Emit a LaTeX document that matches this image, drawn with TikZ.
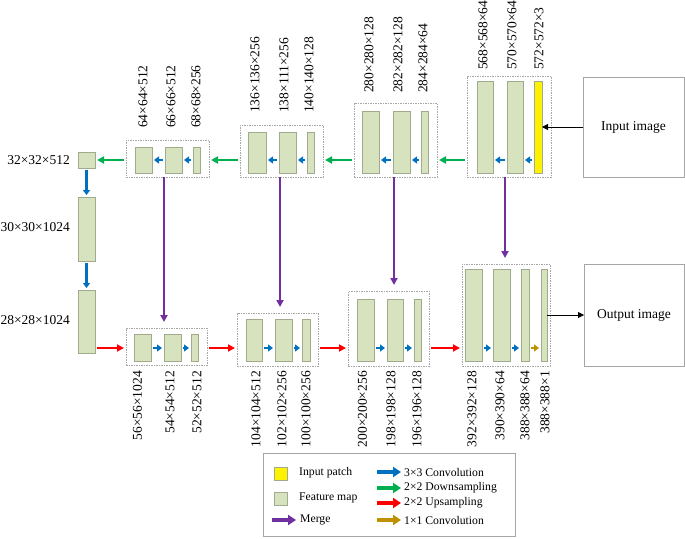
\documentclass[tikz,border=0pt]{standalone}
\usepackage{fontspec}
\setmainfont{Liberation Serif}
\usetikzlibrary{arrows.meta}
\definecolor{fmfill}{RGB}{215,227,191}
\definecolor{fmdraw}{RGB}{160,170,140}
\definecolor{cblue}{RGB}{0,112,192}
\definecolor{cgreen}{RGB}{0,176,80}
\definecolor{cred}{RGB}{255,0,0}
\definecolor{cpurple}{RGB}{112,48,160}
\definecolor{cgold}{RGB}{191,144,0}
\definecolor{boxgray}{RGB}{166,166,166}
\tikzset{
 fm/.style={draw=fmdraw, fill=fmfill, line width=0.8pt, inner sep=0pt, outer sep=0pt},
 patch/.style={draw=fmdraw, fill=yellow, line width=0.8pt, inner sep=0pt, outer sep=0pt},
 dbox/.style={draw=boxgray, dash pattern=on 1.5pt off 1pt, line width=0.6pt, inner sep=0pt, outer sep=0pt},
 imgbox/.style={draw=boxgray, line width=0.8pt, inner sep=0pt, outer sep=0pt, font=\fontsize{13.5}{16}\selectfont},
 lbl/.style={font=\fontsize{13.5}{16}\selectfont, inner sep=0pt},
 vlbl/.style={lbl, rotate=90},
 leg/.style={font=\fontsize{11.7}{14}\selectfont, inner sep=0pt, anchor=west},
 conv/.style={cblue, line width=2.6pt, -{Triangle[length=5pt,width=7pt]}, shorten <=2pt, shorten >=2pt},
 one/.style={cgold, line width=2.6pt, -{Triangle[length=5pt,width=7pt]}, shorten <=2pt, shorten >=2pt},
 down/.style={cgreen, line width=2.8pt, -{Triangle[length=7pt,width=7pt]}, shorten <=2pt, shorten >=2pt},
 up/.style={cred, line width=2.8pt, -{Triangle[length=7pt,width=7pt]}, shorten <=2pt, shorten >=2pt},
 merge/.style={cpurple, line width=2.8pt, -{Triangle[length=7pt,width=7pt]}, shorten >=6pt},
 blk/.style={black, line width=0.9pt, -{Triangle[length=6pt,width=6pt]}},
 legarrow/.style={line width=4.5pt, -{Triangle[length=8pt,width=10pt]}},
}
\newcommand\fmap[6][fm]{\node[#1, minimum width=#5 pt, minimum height=#6 pt] (#2) at (#3,#4) {};}
\begin{document}
\begin{tikzpicture}[x=1pt,y=-1pt]
\useasboundingbox (0,0) rectangle (685,538);
\coordinate (r1) at (0,160);
\coordinate (r2) at (0,348);
% dashed group boxes
\node[dbox, minimum width=83pt, minimum height=37pt] (TB1) at (167.5,158.5) {};
\node[dbox, minimum width=83pt, minimum height=52pt] (TB2) at (281.5,151) {};
\node[dbox, minimum width=83pt, minimum height=74pt] (TB3) at (395.5,140) {};
\node[dbox, minimum width=84pt, minimum height=101pt] (TB4) at (509,126.5) {};
\node[dbox, minimum width=81pt, minimum height=37pt] (BB1) at (166.5,346.5) {};
\node[dbox, minimum width=81pt, minimum height=53pt] (BB2) at (277.5,339.5) {};
\node[dbox, minimum width=81pt, minimum height=75pt] (BB3) at (388.5,328.5) {};
\node[dbox, minimum width=88pt, minimum height=102pt] (BB4) at (506,315) {};
% feature maps, top
\fmap{c0}{86.5}{160}{17}{16}
\fmap{t11}{143.5}{160}{17}{26}
\fmap{t12}{173.5}{160}{17}{26}
\fmap{t13}{196.5}{160}{7}{26}
\fmap{t21}{257}{152.5}{18}{41}
\fmap{t22}{287.5}{152.5}{17}{41}
\fmap{t23}{310.5}{152.5}{7}{41}
\fmap{t31}{370.5}{142}{17}{62}
\fmap{t32}{401.5}{142}{17}{62}
\fmap{t33}{424.5}{142}{7}{62}
\fmap{t41}{485}{127}{16}{92}
\fmap{t42}{515}{127}{16}{92}
\fmap[patch]{t43}{538}{127}{8}{92}
% left column
\fmap{c1}{86.5}{229}{17}{64}
\fmap{c2}{86.5}{321.5}{17}{63}
% bottom
\fmap{b11}{142.5}{347.5}{17}{27}
\fmap{b12}{172.5}{347.5}{17}{27}
\fmap{b13}{194.5}{347.5}{7}{27}
\fmap{b21}{254}{340}{16}{42}
\fmap{b22}{283.5}{340}{17}{42}
\fmap{b23}{306}{340}{8}{42}
\fmap{b31}{365.5}{330}{17}{62}
\fmap{b32}{395}{330}{16}{62}
\fmap{b33}{417.5}{330}{7}{62}
\fmap{b41}{473.5}{315}{17}{92}
\fmap{b42}{501.5}{315}{17}{92}
\fmap{b43}{525}{315}{8}{92}
\fmap{b44}{544}{315}{6}{92}
% image boxes
\node[imgbox, minimum width=101pt, minimum height=100pt] (inp) at (633.5,127) {Input image};
\node[imgbox, minimum width=100pt, minimum height=102pt] (outp) at (634,315) {Output image};
% left labels
\node[lbl, anchor=east] (l0) at (70,160) {32×32×512};
\node[lbl, anchor=east] (l1) at (70,227) {30×30×1024};
\node[lbl, anchor=east] (l2) at (70,320) {28×28×1024};
% top labels
\node[vlbl, anchor=west] (lt11) at (143,128) {64×64×512};
\node[vlbl, anchor=west] (lt12) at (171,128) {66×66×512};
\node[vlbl, anchor=west] (lt13) at (196,128) {68×68×256};
\node[vlbl, anchor=west] (lt21) at (255,113) {136×136×256};
\node[vlbl, anchor=west] (lt22) at (284,113) {138×111×256};
\node[vlbl, anchor=west] (lt23) at (309,113) {140×140×128};
\node[vlbl, anchor=west] (lt31) at (369,93) {280×280×128};
\node[vlbl, anchor=west] (lt32) at (398,93) {282×282×128};
\node[vlbl, anchor=west] (lt33) at (423,93) {284×284×64};
\node[vlbl, anchor=west] (lt41) at (483,70) {568×568×64};
\node[vlbl, anchor=west] (lt42) at (512,70) {570×570×64};
\node[vlbl, anchor=west] (lt43) at (539,70) {572×572×3};
% bottom labels
\node[vlbl, anchor=east] (lb11) at (137.5,371) {56×56×1024};
\node[vlbl, anchor=east] (lb12) at (170,371) {54×54×512};
\node[vlbl, anchor=east] (lb13) at (197,371) {52×52×512};
\node[vlbl, anchor=east] (lb21) at (256,371) {104×104×512};
\node[vlbl, anchor=east] (lb22) at (282,371) {102×102×256};
\node[vlbl, anchor=east] (lb23) at (306,371) {100×100×256};
\node[vlbl, anchor=east] (lb31) at (362.5,371) {200×200×256};
\node[vlbl, anchor=east] (lb32) at (391,371) {198×198×128};
\node[vlbl, anchor=east] (lb33) at (417,371) {196×196×128};
\node[vlbl, anchor=east] (lb41) at (472,371) {392×392×128};
\node[vlbl, anchor=east] (lb42) at (500,371) {390×390×64};
\node[vlbl, anchor=east] (lb43) at (525,371) {388×388×64};
\node[vlbl, anchor=east] (lb44) at (545,371) {388×388×1};
% top row arrows
\draw[conv] (t12.west |- r1) -- (t11.east |- r1);
\draw[conv] (t13.west |- r1) -- (t12.east |- r1);
\draw[conv] (t22.west |- r1) -- (t21.east |- r1);
\draw[conv] (t23.west |- r1) -- (t22.east |- r1);
\draw[conv] (t32.west |- r1) -- (t31.east |- r1);
\draw[conv] (t33.west |- r1) -- (t32.east |- r1);
\draw[conv] (t42.west |- r1) -- (t41.east |- r1);
\draw[conv] (t43.west |- r1) -- (t42.east |- r1);
\draw[down] (TB1.west |- r1) -- (c0.east);
\draw[down] (TB2.west |- r1) -- (TB1.east |- r1);
\draw[down] (TB3.west |- r1) -- (TB2.east |- r1);
\draw[down] (TB4.west |- r1) -- (TB3.east |- r1);
% left column
\draw[conv] (c0.south) -- (c1.north);
\draw[conv] (c1.south) -- (c2.north);
% bottom row
\draw[up] (c2.east |- r2) -- (BB1.west |- r2);
\draw[up] (BB1.east |- r2) -- (BB2.west |- r2);
\draw[up] (BB2.east |- r2) -- (BB3.west |- r2);
\draw[up] (BB3.east |- r2) -- (BB4.west |- r2);
\draw[conv] (b11.east |- r2) -- (b12.west |- r2);
\draw[conv] (b12.east |- r2) -- (b13.west |- r2);
\draw[conv] (b21.east |- r2) -- (b22.west |- r2);
\draw[conv] (b22.east |- r2) -- (b23.west |- r2);
\draw[conv] (b31.east |- r2) -- (b32.west |- r2);
\draw[conv] (b32.east |- r2) -- (b33.west |- r2);
\draw[conv] (b41.east |- r2) -- (b42.west |- r2);
\draw[conv] (b42.east |- r2) -- (b43.west |- r2);
\draw[one] (b43.east |- r2) -- (b44.west |- r2);
% merges
\coordinate (m1) at (164,177);
\coordinate (m2) at (280,177);
\coordinate (m3) at (394,177);
\coordinate (m4) at (505,177);
\draw[merge] (m1) -- (m1 |- BB1.north);
\draw[merge] (m2) -- (m2 |- BB2.north);
\draw[merge] (m3) -- (m3 |- BB3.north);
\draw[merge] (m4) -- (m4 |- BB4.north);
% image arrows
\draw[blk] (inp.west) -- (t43.east);
\draw[blk] (b44.east) -- (outp.west);
% legend
\node[draw=boxgray, line width=0.8pt, minimum width=252pt, minimum height=83pt, inner sep=0pt, outer sep=0pt] (legend) at (389,495) {};
\node[patch, minimum width=13pt, minimum height=13pt] (lgp) at (280.5,473.5) {};
\node[fm, minimum width=13pt, minimum height=13pt] (lgf) at (280.5,498.5) {};
\node[leg] (tp) at (299,473) {Input patch};
\node[leg] (tf) at (299,498) {Feature map};
\node[leg] (tm) at (300,520) {Merge};
\coordinate (la1) at (272,520); \coordinate (lb1) at (296,520);
\draw[legarrow, cpurple] (la1) -- (lb1);
\coordinate (la2) at (377,472); \coordinate (lb2) at (401,472);
\coordinate (la3) at (377,488); \coordinate (lb3) at (401,488);
\coordinate (la4) at (377,503); \coordinate (lb4) at (401,503);
\coordinate (la5) at (377,520); \coordinate (lb5) at (401,520);
\draw[legarrow, cblue] (la2) -- (lb2);
\draw[legarrow, cgreen] (la3) -- (lb3);
\draw[legarrow, cred] (la4) -- (lb4);
\draw[legarrow, cgold] (la5) -- (lb5);
\node[leg] (t2) at (404,472) {3×3 Convolution};
\node[leg] (t3) at (404,488) {2×2 Downsampling};
\node[leg] (t4) at (404,503) {2×2 Upsampling};
\node[leg] (t5) at (404,520) {1×1 Convolution};
\end{tikzpicture}
\end{document}
